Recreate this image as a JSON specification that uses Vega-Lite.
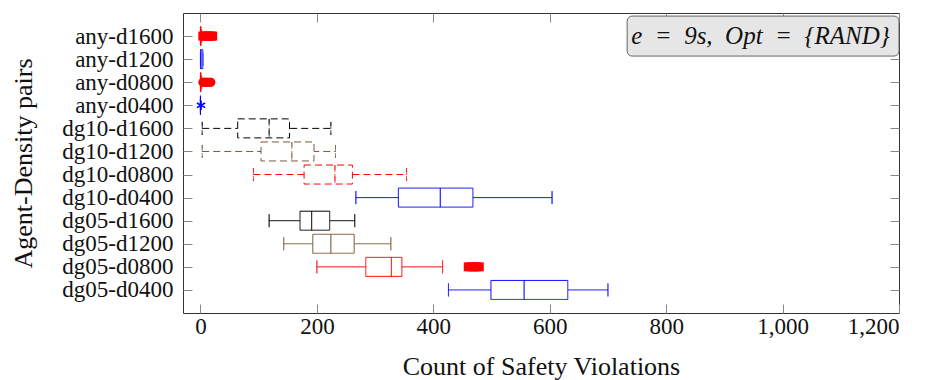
{
  "$schema": "https://vega.github.io/schema/vega-lite/v6.json",
  "autosize": {"type": "none"},
  "width": 716,
  "height": 300,
  "padding": {"left": 183, "top": 13, "right": 30, "bottom": 67},
  "background": "white",
  "config": {
    "view": {"stroke": "#333333", "strokeWidth": 1},
    "axis": {
      "labelFont": "Liberation Serif",
      "labelFontSize": 23,
      "labelColor": "#111111",
      "titleFont": "Liberation Serif",
      "titleFontSize": 26,
      "titleFontWeight": "normal",
      "titleColor": "#111111",
      "domain": false,
      "grid": false,
      "tickColor": "#888888",
      "tickSize": -9,
      "tickWidth": 1
    }
  },
  "datasets": {
    "boxes": [
      {"cat": "any-d1600", "lo": 0, "q1": 0, "med": 0, "q3": 1, "hi": 2},
      {"cat": "any-d1200", "lo": 0, "q1": 0, "med": 1, "q3": 4, "hi": 4},
      {"cat": "any-d0800", "lo": 0, "q1": 0, "med": 0, "q3": 1, "hi": 2},
      {"cat": "any-d0400", "lo": 0, "q1": 0, "med": 0, "q3": 0, "hi": 0},
      {"cat": "dg10-d1600", "lo": 3, "q1": 64, "med": 118, "q3": 153, "hi": 224},
      {"cat": "dg10-d1200", "lo": 3, "q1": 104, "med": 157, "q3": 195, "hi": 232},
      {"cat": "dg10-d0800", "lo": 91, "q1": 178, "med": 231, "q3": 261, "hi": 354},
      {"cat": "dg10-d0400", "lo": 267, "q1": 340, "med": 412, "q3": 468, "hi": 604},
      {"cat": "dg05-d1600", "lo": 118, "q1": 171, "med": 191, "q3": 222, "hi": 265},
      {"cat": "dg05-d1200", "lo": 143, "q1": 193, "med": 224, "q3": 264, "hi": 327},
      {"cat": "dg05-d0800", "lo": 200, "q1": 284, "med": 328, "q3": 346, "hi": 416},
      {"cat": "dg05-d0400", "lo": 426, "q1": 499, "med": 556, "q3": 631, "hi": 700}
    ],
    "outliers": [
      {"cat": "any-d1600", "v": 4}, {"cat": "any-d1600", "v": 7}, {"cat": "any-d1600", "v": 10},
      {"cat": "any-d1600", "v": 13}, {"cat": "any-d1600", "v": 16}, {"cat": "any-d1600", "v": 19},
      {"cat": "any-d1600", "v": 21},
      {"cat": "any-d0800", "v": 4}, {"cat": "any-d0800", "v": 6}, {"cat": "any-d0800", "v": 8},
      {"cat": "any-d0800", "v": 10}, {"cat": "any-d0800", "v": 12}, {"cat": "any-d0800", "v": 14},
      {"cat": "any-d0800", "v": 16}, {"cat": "any-d0800", "v": 18},
      {"cat": "dg05-d0800", "v": 460}, {"cat": "dg05-d0800", "v": 465}, {"cat": "dg05-d0800", "v": 470},
      {"cat": "dg05-d0800", "v": 475}, {"cat": "dg05-d0800", "v": 479}
    ],
    "stars": [
      {"cat": "any-d0400", "v": 1}
    ],
    "note": [
      {"cat": "any-d1600", "x1": 733, "x2": 1200, "xm": 962, "label": "e\u00a0\u00a0=\u00a0\u00a09s,\u00a0\u00a0Opt\u00a0\u00a0=\u00a0\u00a0{RAND}"}
    ]
  },
  "resolve": {"axis": {"x": "independent", "y": "independent"}},
  "layer": [
    {
      "data": {"name": "boxes"},
      "mark": {"type": "rule", "strokeWidth": 1},
      "encoding": {
        "x": {"field": "lo", "type": "quantitative", "title": "Count of Safety Violations",
              "scale": {"domain": [-30, 1200], "nice": false, "zero": false},
              "axis": {"orient": "bottom", "values": [0, 200, 400, 600, 800, 1000, 1200], "format": ",d", "labelPadding": 11, "titlePadding": 15}},
        "x2": {"field": "hi"},
        "y": {"field": "cat", "type": "nominal", "title": "Agent-Density pairs",
              "scale": {"type": "point", "padding": 1, "domain": ["any-d1600", "any-d1200", "any-d0800", "any-d0400", "dg10-d1600", "dg10-d1200", "dg10-d0800", "dg10-d0400", "dg05-d1600", "dg05-d1200", "dg05-d0800", "dg05-d0400"]},
              "axis": {"orient": "left", "labelPadding": 19, "titlePadding": 25}},
        "color": {"field": "cat", "type": "nominal", "legend": null,
                  "scale": {"domain": ["any-d1600", "any-d1200", "any-d0800", "any-d0400", "dg10-d1600", "dg10-d1200", "dg10-d0800", "dg10-d0400", "dg05-d1600", "dg05-d1200", "dg05-d0800", "dg05-d0400"],
                            "range": ["#ff0000", "#0000ff", "#ff0000", "#0000ff", "#000000", "#7b5837", "#ff0000", "#0000ff", "#000000", "#7b5837", "#ff0000", "#0000ff"]}},
        "strokeDash": {"field": "cat", "type": "nominal", "legend": null,
                  "scale": {"domain": ["any-d1600", "any-d1200", "any-d0800", "any-d0400", "dg10-d1600", "dg10-d1200", "dg10-d0800", "dg10-d0400", "dg05-d1600", "dg05-d1200", "dg05-d0800", "dg05-d0400"],
                            "range": [[1, 0], [1, 0], [1, 0], [1, 0], [7, 4], [7, 4], [7, 4], [1, 0], [1, 0], [1, 0], [1, 0], [1, 0]]}}
      }
    },
    {
      "data": {"name": "boxes"},
      "mark": {"type": "tick", "thickness": 0, "filled": false, "strokeWidth": 1, "size": 13},
      "encoding": {
        "x": {"field": "lo", "type": "quantitative", "axis": null},
        "y": {"field": "cat", "type": "nominal", "axis": null},
        "color": {"field": "cat", "type": "nominal", "legend": null},
        "strokeDash": {"field": "cat", "type": "nominal", "legend": null}
      }
    },
    {
      "data": {"name": "boxes"},
      "mark": {"type": "tick", "thickness": 0, "filled": false, "strokeWidth": 1, "size": 13},
      "encoding": {
        "x": {"field": "hi", "type": "quantitative", "axis": null},
        "y": {"field": "cat", "type": "nominal", "axis": null},
        "color": {"field": "cat", "type": "nominal", "legend": null},
        "strokeDash": {"field": "cat", "type": "nominal", "legend": null}
      }
    },
    {
      "data": {"name": "boxes"},
      "mark": {"type": "bar", "size": 19, "fill": "white", "strokeWidth": 1},
      "encoding": {
        "x": {"field": "q1", "type": "quantitative", "axis": null},
        "x2": {"field": "q3"},
        "y": {"field": "cat", "type": "nominal", "axis": null},
        "stroke": {"field": "cat", "type": "nominal", "legend": null,
                  "scale": {"domain": ["any-d1600", "any-d1200", "any-d0800", "any-d0400", "dg10-d1600", "dg10-d1200", "dg10-d0800", "dg10-d0400", "dg05-d1600", "dg05-d1200", "dg05-d0800", "dg05-d0400"],
                            "range": ["#ff0000", "#0000ff", "#ff0000", "#0000ff", "#000000", "#7b5837", "#ff0000", "#0000ff", "#000000", "#7b5837", "#ff0000", "#0000ff"]}},
        "strokeDash": {"field": "cat", "type": "nominal", "legend": null}
      }
    },
    {
      "data": {"name": "boxes"},
      "mark": {"type": "tick", "thickness": 0, "filled": false, "strokeWidth": 1, "size": 19},
      "encoding": {
        "x": {"field": "med", "type": "quantitative", "axis": null},
        "y": {"field": "cat", "type": "nominal", "axis": null},
        "color": {"field": "cat", "type": "nominal", "legend": null},
        "strokeDash": {"field": "cat", "type": "nominal", "legend": null}
      }
    },
    {
      "data": {"name": "outliers"},
      "mark": {"type": "point", "filled": true, "opacity": 1, "size": 80},
      "encoding": {
        "x": {"field": "v", "type": "quantitative", "axis": null},
        "y": {"field": "cat", "type": "nominal", "axis": null},
        "color": {"field": "cat", "type": "nominal", "legend": null},
        "shape": {"field": "cat", "type": "nominal", "legend": null,
                  "scale": {"domain": ["any-d1600", "any-d0800", "dg05-d0800"], "range": ["square", "circle", "square"]}}
      }
    },
    {
      "data": {"name": "stars"},
      "mark": {"type": "point", "filled": false, "opacity": 1, "size": 90, "strokeWidth": 1.6,
               "shape": "M0,-1L0,1M-0.87,-0.5L0.87,0.5M-0.87,0.5L0.87,-0.5M0,-1L0,1"},
      "encoding": {
        "x": {"field": "v", "type": "quantitative", "axis": null},
        "y": {"field": "cat", "type": "nominal", "axis": null},
        "color": {"field": "cat", "type": "nominal", "legend": null}
      }
    },
    {
      "data": {"name": "note"},
      "mark": {"type": "bar", "size": 40, "fill": "#e6e6e6", "stroke": "#666666", "strokeWidth": 1, "cornerRadius": 5},
      "encoding": {
        "x": {"field": "x1", "type": "quantitative", "axis": null},
        "x2": {"field": "x2"},
        "y": {"field": "cat", "type": "nominal", "axis": null}
      }
    },
    {
      "data": {"name": "note"},
      "mark": {"type": "text", "font": "Liberation Serif", "fontStyle": "italic", "fontSize": 25, "color": "#111111", "align": "center", "baseline": "middle"},
      "encoding": {
        "x": {"field": "xm", "type": "quantitative",
              "axis": {"orient": "top", "values": [0, 200, 400, 600, 800, 1000, 1200], "labels": false, "title": null}},
        "y": {"field": "cat", "type": "nominal",
              "axis": {"orient": "right", "labels": false, "title": null}},
        "text": {"field": "label"}
      }
    }
  ]
}
